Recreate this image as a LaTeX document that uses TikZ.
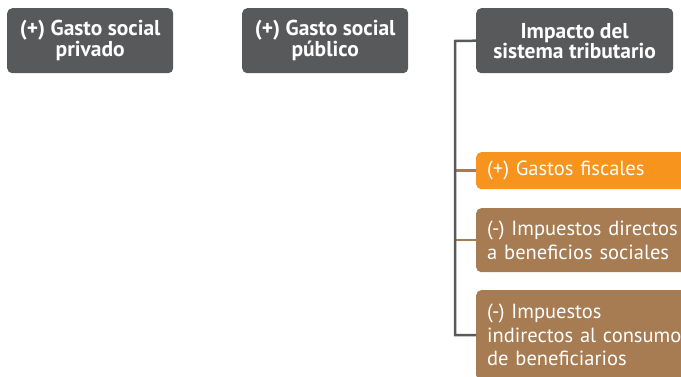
\documentclass[tikz,border=0pt]{standalone}
\usepackage{fontspec}
\setmainfont{PT Sans}
\usetikzlibrary{positioning}
\definecolor{boxgray}{HTML}{58595B}
\definecolor{fisorange}{HTML}{F7941E}
\definecolor{taxbrown}{HTML}{A77C52}
\tikzset{headbox/.style={fill=boxgray, text=white, rounded corners=5pt,
    font=\fontsize{21.5}{20}\selectfont\bfseries, align=center,
    minimum height=65pt, inner sep=0pt, anchor=north west}}
\tikzset{itembox/.style={fill=#1, text=white, rounded corners=5pt,
    font=\fontsize{20.5}{23.5}\selectfont, align=left, text width=210pt,
    inner xsep=11pt, inner ysep=0pt, anchor=north west}}
\tikzset{spine/.style={draw=boxgray, line width=2.5pt}}
\tikzset{stub/.style={draw=taxbrown, line width=2.5pt}}

\begin{document}
\begin{tikzpicture}[x=1pt, y=-1pt]
  \useasboundingbox (0,0) rectangle (681,377);

  % ---- the three headings
  \node[headbox, minimum width=166pt] at (7,8)   (priv) {(+) Gasto social\\privado};
  \node[headbox, minimum width=166pt] at (242,8) (pub)  {(+) Gasto social\\público};
  \node[headbox, minimum width=197pt] at (476,8) (trib) {Impacto del\\sistema tributario};

  % ---- the items under the tax system
  \node[itembox=fisorange, minimum height=37pt] at (476,152) (gfis) {(+) Gastos fiscales};
  \node[itembox=taxbrown,  minimum height=64pt] at (476,208) (idir) {(-) Impuestos directos\\a beneficios sociales};
  \node[itembox=taxbrown,  minimum height=90pt] at (476,290) (iind) {(-) Impuestos\\indirectos al consumo\\de beneficiarios};

  % ---- the bracket on the left of the items
  \coordinate (sp) at (455,41);
  \draw[stub] (sp |- gfis.west) -- (gfis.west);
  \draw[stub] (sp |- idir.west) -- (idir.west);
  \draw[spine] (trib.west) -- (sp) |- (iind.west);

\end{tikzpicture}
\end{document}
